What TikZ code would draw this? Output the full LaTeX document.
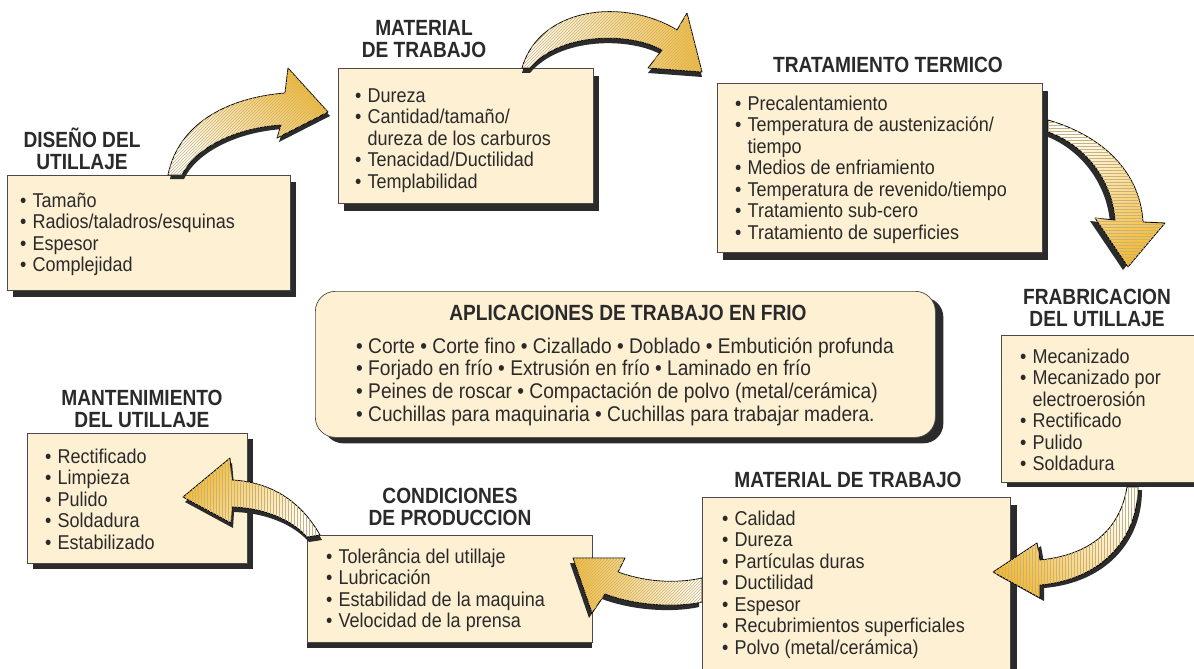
\documentclass[tikz,border=0pt]{standalone}
\usepackage{fontspec}
\setmainfont{Liberation Sans}[FakeStretch=0.9]
\newfontfamily\titlefam{Liberation Sans}[FakeStretch=0.87]
\usetikzlibrary{shadows,patterns}
\definecolor{cream}{HTML}{FEF0D3}
\definecolor{boxline}{HTML}{4A4A4A}
\definecolor{shadowc}{HTML}{2B2B2B}
\definecolor{txt}{HTML}{2A2A2A}
\definecolor{argold}{HTML}{F5BA2E}
\definecolor{armid}{HTML}{FAE0A0}
\definecolor{arwhite}{HTML}{FFFFFF}
\definecolor{hatchc}{HTML}{C9B27A}
\newcommand\itm{\makebox[12.5pt][l]{•}}
\newcommand\cnt{\hspace*{12.5pt}}
\newcommand\fs{\rule{0pt}{22pt}}
\newcommand\bodyfont{\fontsize{20}{21.5}\selectfont}
\newcommand\appfont{\fontsize{21.3}{22.6}\selectfont}
\newcommand\headfont{\titlefam\bfseries\fontsize{22}{22.5}\selectfont}
\tikzset{
  box/.style 2 args={draw=boxline, line width=0.7pt, fill=cream, inner sep=0pt,
    anchor=north west, general shadow={fill=shadowc, shadow xshift=#1, shadow yshift=#2}},
  body/.style={anchor=north west, inner sep=0pt, align=left, font=\bodyfont, text=txt},
  head/.style={anchor=north, inner sep=0pt, align=center, font=\headfont, text=txt},
  fatarrow/.style 2 args={draw=black, line width=0.8pt, line join=round,
    top color=argold, middle color=armid, bottom color=arwhite, shading angle=#1,
    postaction={pattern=#2, pattern color=hatchc}},
  arrshadow/.style={fill=shadowc},
}
\begin{document}
\begin{tikzpicture}[x=1pt,y=-1pt]
\useasboundingbox (0,0) rectangle (1194,669);
\fill[white] (0,0) rectangle (1194,669);

% boxes
\node[box={6pt}{-7pt}, minimum width=283pt, minimum height=115pt] (disbox) at (7,175) {};
\node[box={6pt}{-8pt}, minimum width=255pt, minimum height=135pt] (mat1box) at (338,68) {};
\node[box={6pt}{-8pt}, minimum width=325pt, minimum height=169pt] (tratbox) at (717,83) {};
\node[box={6pt}{-5pt}, minimum width=200pt, minimum height=147pt] (frabbox) at (1001,335) {};
\node[box={7pt}{-8pt}, minimum width=308pt, minimum height=175pt] (mat2box) at (702,497) {};
\node[box={0pt}{-6pt}, minimum width=285pt, minimum height=107pt] (condbox) at (307,535) {};
\node[box={6pt}{-6pt}, minimum width=220pt, minimum height=130pt] (mantbox) at (27,433) {};
\node[box={8pt}{-6pt}, rounded corners=20pt, minimum width=620pt, minimum height=146pt] (appbox) at (315,291) {};

% titles
\node[head] (dish) at (82,125) {\fs DISEÑO DEL\\UTILLAJE};
\node[head] (mat1h) at (424,13) {\fs MATERIAL\\DE TRABAJO};
\node[head] (trath) at (888,50) {\fs TRATAMIENTO TERMICO};
\node[head] (frabh) at (1097,282) {\fs FRABRICACION\\DEL UTILLAJE};
\node[head] (mat2h) at (848,465) {\fs MATERIAL DE TRABAJO};
\node[head] (condh) at (450,481) {\fs CONDICIONES\\DE PRODUCCION};
\node[head] (manth) at (142,383) {\fs MANTENIMIENTO\\DEL UTILLAJE};
\node[head] (apph) at (628,298) {\fs APLICACIONES DE TRABAJO EN FRIO};

% body texts
\node[body] (dist) at (20,185) {\fs\itm Tamaño\\\itm Radios/taladros/esquinas\\\itm Espesor\\\itm Complejidad};
\node[body] (mat1t) at (355,80) {\fs\itm Dureza\\\itm Cantidad/tamaño/\\\cnt dureza de los carburos\\\itm Tenacidad/Ductilidad\\\itm Templabilidad};
\node[body] (tratt) at (735,88) {\fs\itm Precalentamiento\\\itm Temperatura de austenización/\\\cnt tiempo\\\itm Medios de enfriamiento\\\itm Temperatura de revenido/tiempo\\\itm Tratamiento sub-cero\\\itm Tratamiento de superficies};
\node[body] (frabt) at (1020,341) {\fs\itm Mecanizado\\\itm Mecanizado por\\\cnt electroerosión\\\itm Rectificado\\\itm Pulido\\\itm Soldadura};
\node[body] (mat2t) at (722,503) {\fs\itm Calidad\\\itm Dureza\\\itm Partículas duras\\\itm Ductilidad\\\itm Espesor\\\itm Recubrimientos superficiales\\\itm Polvo (metal/cerámica)};
\node[body] (condt) at (326,541) {\fs\itm Tolerância del utillaje\\\itm Lubricación\\\itm Estabilidad de la maquina\\\itm Velocidad de la prensa};
\node[body] (mantt) at (45,441) {\fs\itm Rectificado\\\itm Limpieza\\\itm Pulido\\\itm Soldadura\\\itm Estabilizado};
\node[body, font=\appfont] (appt) at (356,331) {\fs• Corte • Corte fino • Cizallado • Doblado • Embutición profunda\\• Forjado en frío • Extrusión en frío • Laminado en frío\\• Peines de roscar • Compactación de polvo (metal/cerámica)\\• Cuchillas para maquinaria • Cuchillas para trabajar madera.};

% fat arrows: Diseno -> Material
\fill[arrshadow, shift={(2,4)}] (168,175) .. controls (178,125) and (225,98) .. (285,93) -- (288,68) -- (328,112) -- (277,138) -- (281,125) .. controls (235,128) and (195,148) .. (182,175) -- cycle;
\shadedraw[fatarrow={-45}{north east lines}] (168,175) .. controls (178,125) and (225,98) .. (285,93) -- (288,68) -- (328,112) -- (277,138) -- (281,125) .. controls (235,128) and (195,148) .. (182,175) -- cycle;
% Material -> Tratamiento
\fill[arrshadow, shift={(0,5)}] (522,68) .. controls (540,6) and (625,-2) .. (677,30) -- (687,13) -- (702,72) -- (648,68) -- (662,50) .. controls (630,32) and (560,32) .. (530,68) -- cycle;
\shadedraw[fatarrow={-90}{north east lines}] (522,68) .. controls (540,6) and (625,-2) .. (677,30) -- (687,13) -- (702,72) -- (648,68) -- (662,50) .. controls (630,32) and (560,32) .. (530,68) -- cycle;
% Tratamiento -> Frabricacion
\fill[arrshadow, shift={(-5,3)}] (1048,120) .. controls (1100,135) and (1140,170) .. (1143,222) -- (1165,223) -- (1128,267) -- (1095,218) -- (1115,220) .. controls (1112,180) and (1085,145) .. (1048,132) -- cycle;
\shadedraw[fatarrow={-153}{horizontal lines}] (1048,120) .. controls (1100,135) and (1140,170) .. (1143,222) -- (1165,223) -- (1128,267) -- (1095,218) -- (1115,220) .. controls (1112,180) and (1085,145) .. (1048,132) -- cycle;
% Frabricacion -> Material
\fill[arrshadow, shift={(4,3)}] (1127,487) .. controls (1120,530) and (1090,555) .. (1040,560) -- (1037,543) -- (993,572) -- (1040,598) -- (1040,585) .. controls (1100,580) and (1138,540) .. (1138,487) -- cycle;
\shadedraw[fatarrow={127}{vertical lines}] (1127,487) .. controls (1120,530) and (1090,555) .. (1040,560) -- (1037,543) -- (993,572) -- (1040,598) -- (1040,585) .. controls (1100,580) and (1138,540) .. (1138,487) -- cycle;
% Material -> Condiciones
\fill[arrshadow, shift={(-3,5)}] (702,578) .. controls (670,585) and (640,580) .. (618,572) -- (625,558) -- (573,558) -- (592,613) -- (605,594) .. controls (640,607) and (680,607) .. (702,602) -- cycle;
\shadedraw[fatarrow={90}{north east lines}] (702,578) .. controls (670,585) and (640,580) .. (618,572) -- (625,558) -- (573,558) -- (592,613) -- (605,594) .. controls (640,607) and (680,607) .. (702,602) -- cycle;
% Condiciones -> Mantenimiento
\fill[arrshadow, shift={(2,5)}] (320,535) .. controls (300,500) and (270,482) .. (232,480) -- (230,458) -- (183,497) -- (231,523) -- (232,507) .. controls (265,508) and (292,520) .. (307,537) -- cycle;
\shadedraw[fatarrow={53}{vertical lines}] (320,535) .. controls (300,500) and (270,482) .. (232,480) -- (230,458) -- (183,497) -- (231,523) -- (232,507) .. controls (265,508) and (292,520) .. (307,537) -- cycle;
\end{tikzpicture}
\end{document}
